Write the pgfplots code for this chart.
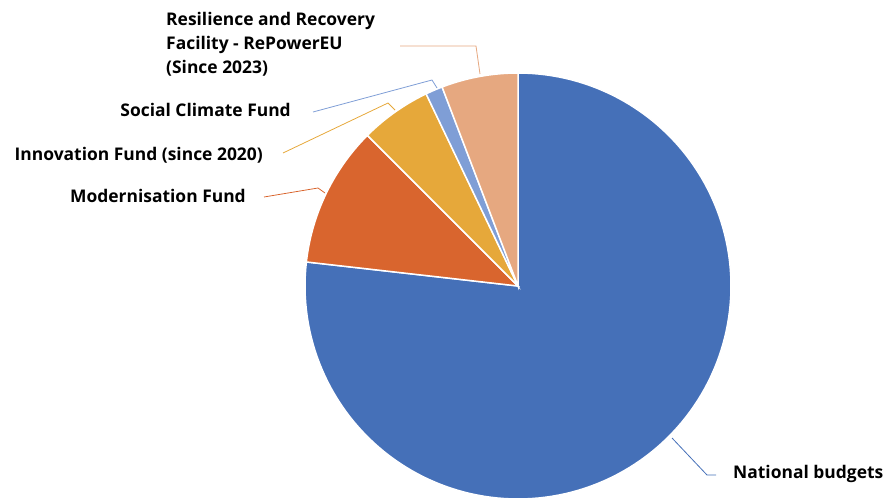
\documentclass[border=0pt]{standalone}
\usepackage{pgfplots}
\pgfplotsset{compat=1.18}
\usepackage{pgfplotstable}
\usepackage{fontspec}
\setmainfont{Open Sans}
\definecolor{cBlue}{HTML}{4570B8}
\definecolor{cOrange}{HTML}{D9652E}
\definecolor{cYellow}{HTML}{E6A83A}
\definecolor{cLBlue}{HTML}{7F9ED6}
\definecolor{cPeach}{HTML}{E6A880}
\pgfplotstableread{
name value
National 76.8
Modernisation 10.7
Innovation 5.4
Social 1.3
RRF 5.8
}\piedata
\pgfplotstablegetelem{0}{value}\of\piedata\let\vA\pgfplotsretval
\pgfplotstablegetelem{1}{value}\of\piedata\let\vB\pgfplotsretval
\pgfplotstablegetelem{2}{value}\of\piedata\let\vC\pgfplotsretval
\pgfplotstablegetelem{3}{value}\of\piedata\let\vD\pgfplotsretval
\pgfplotstablegetelem{4}{value}\of\piedata\let\vE\pgfplotsretval
\pgfmathsetmacro\aA{90}
\pgfmathsetmacro\aB{\aA-3.6*\vA}
\pgfmathsetmacro\aC{\aB-3.6*\vB}
\pgfmathsetmacro\aD{\aC-3.6*\vC}
\pgfmathsetmacro\aE{\aD-3.6*\vD}
\pgfmathsetmacro\aF{\aE-3.6*\vE}
\tikzset{lbl/.style={font=\fontsize{17.5}{24}\selectfont\bfseries, inner sep=0pt}}
\begin{document}
\begin{tikzpicture}
\begin{axis}[
  scale only axis, width=887bp, height=498bp,
  xmin=0, xmax=887, ymin=0, ymax=498, y dir=reverse,
  axis lines=none, clip=true,
]
\addplot[fill=cBlue, draw=white, line width=1.5pt, domain=\aB:\aA, samples=150] ({518+213*cos(x)},{286-213*sin(x)}) -- (axis cs:518,286) -- cycle;
\addplot[fill=cOrange, draw=white, line width=1.5pt, domain=\aC:\aB, samples=40] ({518+213*cos(x)},{286-213*sin(x)}) -- (axis cs:518,286) -- cycle;
\addplot[fill=cYellow, draw=white, line width=1.5pt, domain=\aD:\aC, samples=30] ({518+213*cos(x)},{286-213*sin(x)}) -- (axis cs:518,286) -- cycle;
\addplot[fill=cLBlue, draw=white, line width=1.5pt, domain=\aE:\aD, samples=10] ({518+213*cos(x)},{286-213*sin(x)}) -- (axis cs:518,286) -- cycle;
\addplot[fill=cPeach, draw=white, line width=1.5pt, domain=\aF:\aE, samples=30] ({518+213*cos(x)},{286-213*sin(x)}) -- (axis cs:518,286) -- cycle;
% leader lines
\addplot[cPeach, line width=0.8pt] coordinates {(480,74) (476,46) (400,46)};
\addplot[cLBlue, line width=0.8pt] coordinates {(437,88) (432,80) (313,112)};
\addplot[cYellow, line width=0.8pt] coordinates {(395,110) (388,103) (283,153)};
\addplot[cOrange, line width=0.8pt] coordinates {(325,193) (318,188) (264,197)};
\addplot[cBlue, line width=0.8pt] coordinates {(672,438) (707,475) (716,475)};
% labels
\node[lbl, anchor=west, align=left] at (axis cs:166,44) {Resilience and Recovery\\Facility - RePowerEU\\(Since 2023)};
\node[lbl, anchor=east] at (axis cs:291,110) {Social Climate Fund};
\node[lbl, anchor=east] at (axis cs:263,155) {Innovation Fund (since 2020)};
\node[lbl, anchor=east] at (axis cs:246,196) {Modernisation Fund};
\node[lbl, anchor=west] at (axis cs:733,474) {National budgets};
\coordinate (bbA) at (rel axis cs:0,0);
\coordinate (bbB) at (rel axis cs:1,1);
\end{axis}
\pgfresetboundingbox
\useasboundingbox (bbA) rectangle (bbB);
\end{tikzpicture}
\end{document}
